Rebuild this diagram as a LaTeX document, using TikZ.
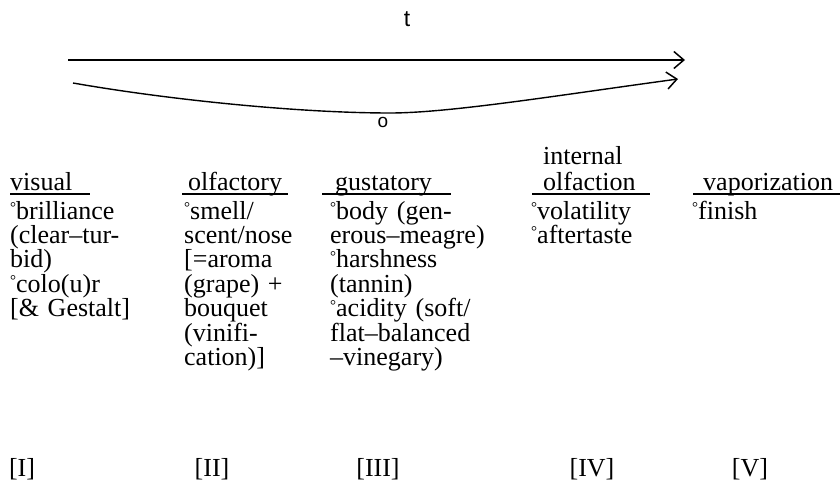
\documentclass[tikz,border=0pt]{standalone}
\usepackage{fontspec}
\setmainfont{Liberation Serif}
\setsansfont{Liberation Sans}
\usetikzlibrary{arrows.meta}
\newcommand{\dgr}{\raisebox{6.5pt}{\fontsize{15}{15}\selectfont °}}
\tikzset{
  txt/.style={inner sep=0pt,font=\fontsize{26}{24.4}\selectfont},
  head/.style={txt,anchor=base west},
  body/.style={txt,anchor=base west,align=left,text width=200pt},
  num/.style={txt,anchor=base},
  uline/.style={line width=1.5pt},
  tline/.style={line width=1.4pt,-{Straight Barb[length=10pt,width=17pt,line width=1.5pt]}}
}
\begin{document}
\begin{tikzpicture}[x=1pt,y=-1pt]
	\useasboundingbox (0,0) rectangle (840,489);
	\coordinate (A0) at (68,60); \coordinate (A1) at (685,60);
	\coordinate (B0) at (73,83); \coordinate (B1) at (678,79); \coordinate (Bm) at (390,113);
	\draw[tline] (A0)--(A1);
	\draw[tline] (B0) .. controls (170,100) and (300,113) .. (Bm) .. controls (450,113) and (560,95) .. (B1);
	\node[inner sep=0pt,font=\sffamily\fontsize{23}{24}\selectfont] (t) at (407,19) {t};
	\node[inner sep=0pt,font=\sffamily\fontsize{19}{22}\selectfont] (o) at (383,122) {o};
	\node[head] (visual) at (10,190) {visual};
	\node[head] (olf) at (188,190) {olfactory};
	\node[head] (gus) at (335,190) {gustatory};
	\node[head] (intA) at (543,165) {internal};
	\node[head] (intB) at (543,190) {olfaction};
	\node[head] (vap) at (703,190) {vaporization};
	\draw[uline] (10,194)--(90,194) (182,194)--(288,194) (322,194)--(451,194) (532,194)--(650,194) (693,194)--(840,194);
	\node[body] (visualB) at (10,219) {\dgr brilliance\\(clear--tur-\\bid)\\\dgr colo(u)r\\{[}\& Gestalt]};
	\node[body] (olfB) at (184,219) {\dgr smell/\\scent/nose\\{[}=aroma\\(grape) +\\bouquet\\(vinifi-\\cation)]};
	\node[body] (gusB) at (330,219) {\dgr body (gen-\\erous--meagre)\\\dgr harshness\\(tannin)\\\dgr acidity (soft/\\flat--balanced\\--vinegary)};
	\node[body] (intBB) at (531,219) {\dgr volatility\\\dgr aftertaste};
	\node[body] (vapB) at (692,219) {\dgr finish};
	\node[num] (n1) at (22,476) {[I]};
	\node[num] (n2) at (212,476) {[II]};
	\node[num] (n3) at (378,476) {[III]};
	\node[num] (n4) at (592,476) {[IV]};
	\node[num] (n5) at (750,476) {[V]};
\end{tikzpicture}
\end{document}
